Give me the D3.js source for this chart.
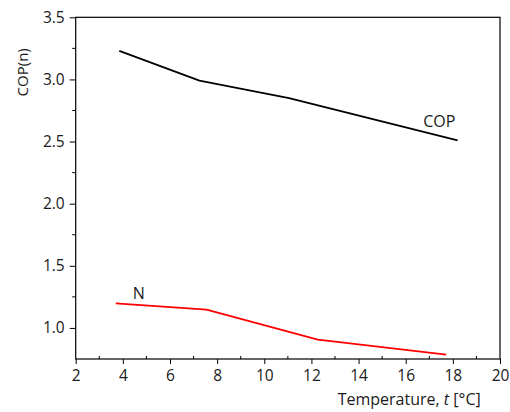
<!DOCTYPE html>
<html lang="en">
<head>
    <meta charset="UTF-8">
    <title>COP chart</title>
    <script src="https://d3js.org/d3.v7.min.js"></script>
    <style>
    html, body {
        margin: 0;
        padding: 0;
        background: #fff;
    }
    svg text {
        font-family: "Open Sans", "Noto Sans", sans-serif;
        fill: #1a1a1a;
    }
    .line {
        fill: none;
        stroke-width: 1.8;
        stroke-linejoin: round;
    }
    </style>
</head>
<body>
<div id="chart"></div>
<script>

    // data
    var copT = [3.85, 7.25, 11.05, 18.2];
    var copV = [3.23, 2.99, 2.85, 2.51];
    var nT = [3.7, 7.55, 12.27, 17.72];
    var nV = [1.198, 1.147, 0.906, 0.785];

    var xTicks = [2, 4, 6, 8, 10, 12, 14, 16, 18, 20];
    var yTicks = [1.0, 1.5, 2.0, 2.5, 3.0, 3.5];

    var W = 510, H = 412;
    var margin = {top: 17.3, right: 10, bottom: 53, left: 75.7};
    var width = W - margin.left - margin.right,
        height = H - margin.top - margin.bottom;

    var x = d3.scaleLinear().domain([2, 20]).range([0, width]);
    var y = d3.scaleLinear().domain([0.75, 3.5]).range([height, 0]);

    var svg = d3.select("#chart").append("svg")
        .attr("width", W)
        .attr("height", H)
        .append("g")
        .attr("transform", "translate(" + margin.left + "," + margin.top + ")");

    // frame
    svg.append("rect")
        .attr("width", width)
        .attr("height", height)
        .attr("fill", "none")
        .attr("stroke", "#000")
        .attr("stroke-width", 1.2);

    // minor ticks (x inward, y outward)
    var xMinor = d3.range(3, 20, 2);
    svg.append("g").selectAll("line").data(xMinor).enter().append("line")
        .attr("x1", function(d) { return x(d); })
        .attr("x2", function(d) { return x(d); })
        .attr("y1", height)
        .attr("y2", height - 3)
        .attr("stroke", "#000");

    var yMinor = [1.25, 1.75, 2.25, 2.75, 3.25];
    svg.append("g").selectAll("line").data(yMinor).enter().append("line")
        .attr("x1", 0)
        .attr("x2", -3.5)
        .attr("y1", function(d) { return y(d); })
        .attr("y2", function(d) { return y(d); })
        .attr("stroke", "#000");

    var xAxis = svg.append("g")
        .attr("transform", "translate(0," + height + ")")
        .call(d3.axisBottom(x).tickValues(xTicks).tickSize(5).tickPadding(6).tickFormat(d3.format("d")));

    var yAxis = svg.append("g")
        .call(d3.axisLeft(y).tickValues(yTicks).tickSize(6).tickPadding(5).tickFormat(d3.format(".1f")));

    [xAxis, yAxis].forEach(function(a) {
        a.select(".domain").remove();
        a.selectAll(".tick line").attr("stroke", "#000");
        a.selectAll(".tick text").style("font-size", "15.5px").attr("fill", "#1a1a1a");
    });

    var line = d3.line()
        .x(function(d) { return x(d[0]); })
        .y(function(d) { return y(d[1]); });

    svg.append("path")
        .datum(d3.zip(copT, copV))
        .attr("class", "line")
        .attr("stroke", "#000")
        .attr("d", line);

    svg.append("path")
        .datum(d3.zip(nT, nV))
        .attr("class", "line")
        .attr("stroke", "#ff0000")
        .attr("d", line);

    // series labels
    svg.append("text")
        .attr("x", x(16.74))
        .attr("y", y(2.615))
        .style("font-size", "16px")
        .text("COP");

    svg.append("text")
        .attr("x", x(4.42))
        .attr("y", y(1.232))
        .style("font-size", "16px")
        .text("N");

    // axis titles
    var xt = svg.append("text")
        .attr("x", 405)
        .attr("y", height + 46)
        .attr("text-anchor", "end")
        .style("font-size", "16px");
    xt.append("tspan").text("Temperature, ");
    xt.append("tspan").style("font-style", "italic").text("t");
    xt.append("tspan").text(" [\u00b0C]");

    svg.append("text")
        .attr("transform", "translate(" + (-47.5) + "," + 55 + ") rotate(-90)")
        .attr("text-anchor", "middle")
        .style("font-size", "15px")
        .text("COP(n)");

</script>
</body>
</html>
